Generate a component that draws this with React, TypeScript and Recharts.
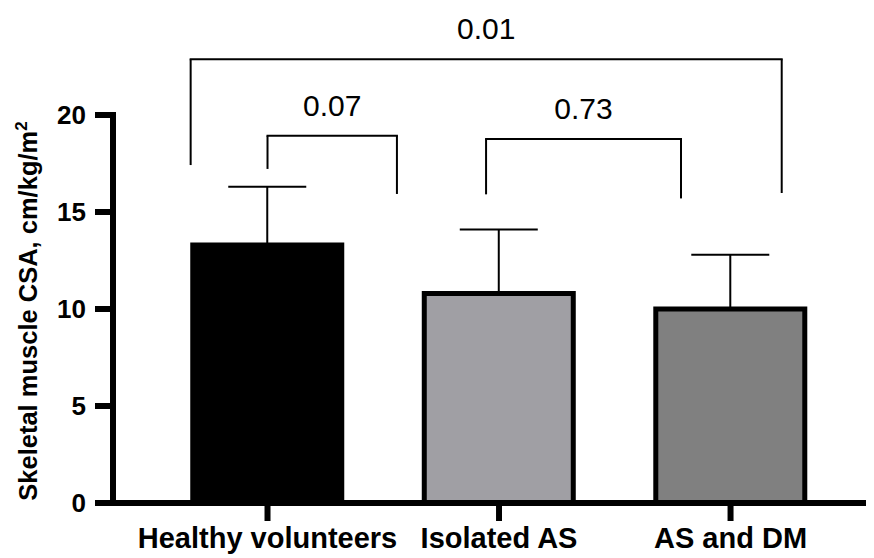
import React from 'react';
import {
  BarChart,
  Bar,
  XAxis,
  YAxis,
  Cell,
  ErrorBar,
  ReferenceLine,
} from 'recharts';

// Groups and their skeletal muscle CSA (mean and SD, cm/kg/m²)
const groups = ['Healthy volunteers', 'Isolated AS', 'AS and DM'];
const means = [13.3, 10.8, 10.0];
const sds = [3.0, 3.3, 2.8];
const barFills = ['#000000', '#a09fa4', '#808080'];

const yTicks = [0, 5, 10, 15, 20];

// Pairwise comparison brackets (x in group units, y in axis units)
const bracketLabels = ['0.01', '0.07', '0.73'];
const bracketStart = [-0.332, 0, 0.944];
const bracketEnd = [2.221, 0.559, 1.786];
const bracketTop = [22.87, 18.93, 18.76];
const bracketLeftFoot = [17.42, 17.22, 15.91];
const bracketRightFoot = [15.98, 15.93, 15.7];

const FONT = '"Liberation Sans", Arial, Helvetica, sans-serif';

const data = groups.map((name, i) => ({
  pos: i,
  name,
  mean: means[i],
  err: [0, sds[i]],
}));

const YLabel = () => (
  <text
    x={29}
    y={303}
    transform="rotate(-90, 29, 303)"
    textAnchor="middle"
    fontFamily={FONT}
    fontWeight="bold"
    fontSize={25.5}
    fill="#000"
  >
    Skeletal muscle CSA, cm/kg/m
    <tspan fontSize={17} dy={-10}>2</tspan>
  </text>
);

export default function App() {
  return (
    <BarChart
      width={866}
      height={550}
      data={data}
      margin={{ top: 107, right: 2, bottom: 0, left: 0 }}
    >
      <XAxis
        dataKey="pos"
        type="number"
        domain={[-0.6674, 2.611]}
        allowDataOverflow
        ticks={[0, 1, 2]}
        tickFormatter={(v: number) => groups[v] ?? ''}
        height={55}
        axisLine={{ stroke: '#000', strokeWidth: 6, strokeLinecap: 'square' }}
        tickLine={{ stroke: '#000', strokeWidth: 6 }}
        tickSize={18}
        tickMargin={6}
        tick={{ fill: '#000', fontFamily: FONT, fontWeight: 'bold', fontSize: 29 }}
      />
      <YAxis
        type="number"
        domain={[0, 20]}
        ticks={yTicks}
        width={105}
        axisLine={{ stroke: '#000', strokeWidth: 6, strokeLinecap: 'square' }}
        tickLine={{ stroke: '#000', strokeWidth: 6 }}
        tickSize={18}
        tickMargin={9}
        tick={{ fill: '#000', fontFamily: FONT, fontWeight: 'bold', fontSize: 26 }}
        label={{ content: () => <YLabel /> }}
      />
      <Bar
        dataKey="mean"
        barSize={149}
        stroke="#000"
        strokeWidth={5}
        isAnimationActive={false}
      >
        {data.map((d, i) => (
          <Cell key={d.name} fill={barFills[i]} />
        ))}
        <ErrorBar
          dataKey="err"
          direction="y"
          width={39}
          stroke="#000"
          strokeWidth={2}
          isAnimationActive={false}
        />
      </Bar>
      {bracketLabels.map((lab, i) => (
        <ReferenceLine
          key={`l-${lab}`}
          ifOverflow="visible"
          stroke="#000"
          strokeWidth={2}
          segment={[
            { x: bracketStart[i], y: bracketLeftFoot[i] },
            { x: bracketStart[i], y: bracketTop[i] },
          ]}
        />
      ))}
      {bracketLabels.map((lab, i) => (
        <ReferenceLine
          key={`r-${lab}`}
          ifOverflow="visible"
          stroke="#000"
          strokeWidth={2}
          segment={[
            { x: bracketEnd[i], y: bracketRightFoot[i] },
            { x: bracketEnd[i], y: bracketTop[i] },
          ]}
        />
      ))}
      {bracketLabels.map((lab, i) => (
        <ReferenceLine
          key={`t-${lab}`}
          ifOverflow="visible"
          stroke="#000"
          strokeWidth={2}
          strokeLinecap="square"
          segment={[
            { x: bracketStart[i], y: bracketTop[i] },
            { x: bracketEnd[i], y: bracketTop[i] },
          ]}
          label={{
            value: lab,
            position: 'top',
            offset: 20,
            fill: '#000',
            fontFamily: FONT,
            fontSize: 30,
          }}
        />
      ))}
    </BarChart>
  );
}
